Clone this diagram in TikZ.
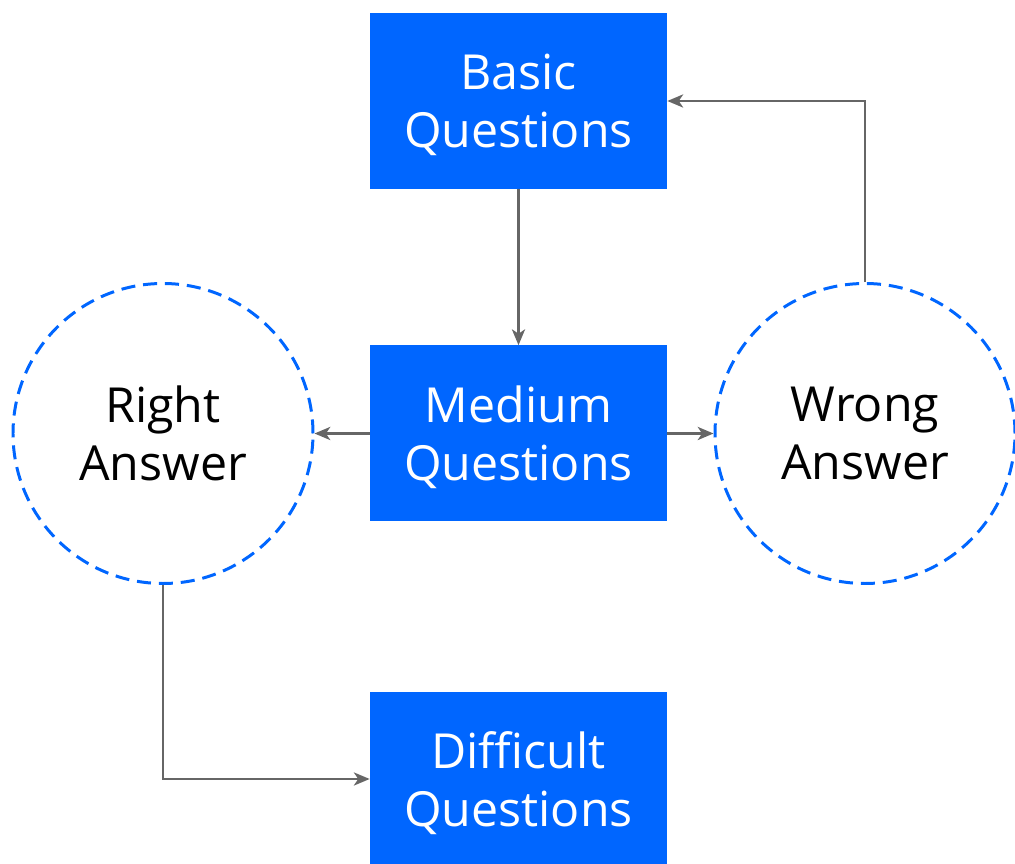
\documentclass[tikz,border=0pt]{standalone}
\usepackage{fontspec}
\setmainfont{Open Sans}
\usetikzlibrary{arrows.meta}
\definecolor{boxblue}{HTML}{0066FF}
\definecolor{linegray}{HTML}{666666}
\begin{document}
\begin{tikzpicture}[x=0.02cm,y=-0.02cm,
  qtext/.style={text=white,align=center,font=\fontsize{27.5}{33}\selectfont,inner sep=0pt,yshift=-0.08cm},
  qbox/.style={fill=boxblue,draw=none,minimum width=297*0.02cm,minimum height=176*0.02cm,inner sep=0pt},
  answer/.style={circle,draw=boxblue,line width=1.7pt,dash pattern=on 8pt off 4.5pt,
    minimum size=300*0.02cm,align=center,font=\fontsize{27.5}{33}\selectfont,inner sep=0pt},
  conn/.style={draw=linegray,line width=1.3pt,-{Stealth[length=9pt,width=7.5pt,inset=2.5pt]}}]
\useasboundingbox (0,0) rectangle (1015,864);
\node[qbox,label={[qtext]center:Basic\\Questions}] (basic) at (518.5,101) {};
\node[qbox,label={[qtext]center:Medium\\Questions}] (medium) at (518.5,433.5) {};
\node[qbox,minimum height=174*0.02cm,label={[qtext]center:Difficult\\Questions}] (difficult) at (518.5,779) {};
\node[answer] (right) at (163,433.5) {Right\\Answer};
\node[answer] (wrong) at (865,433.5) {Wrong\\Answer};
\coordinate (c1) at (865,101);
\coordinate (c2) at (163,779);
\draw[conn] (basic) -- (medium);
\draw[conn] (medium) -- (right);
\draw[conn] (medium) -- (wrong);
\draw[conn] (wrong.north) -- (c1) -- (basic.east);
\draw[conn] (right.south) -- (c2) -- (difficult.west);
\end{tikzpicture}
\end{document}
